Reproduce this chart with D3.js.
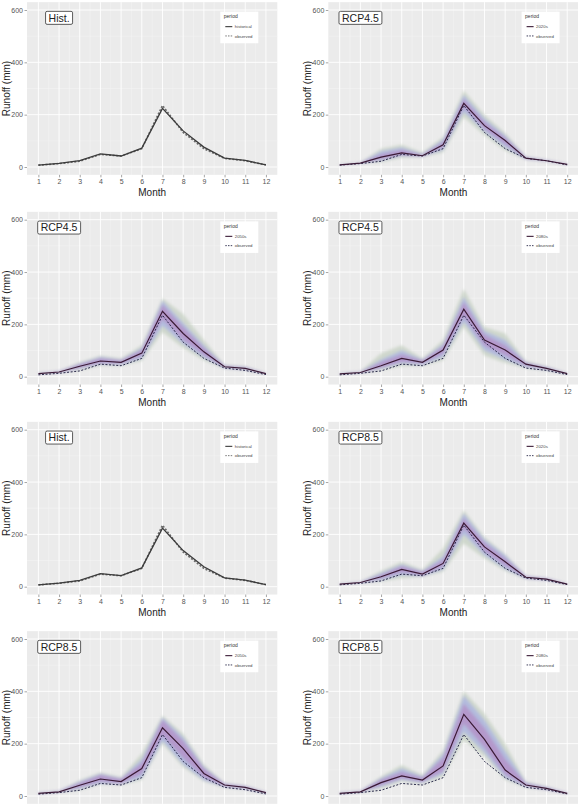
<!DOCTYPE html>
<html><head><meta charset="utf-8">
<script src="https://cdn.jsdelivr.net/npm/d3@7"></script>
<style>
html,body{margin:0;padding:0;background:#fff;}
svg{display:block;font-family:"Liberation Sans",Arial,Helvetica,sans-serif;}
</style></head>
<body><svg id="chart" width="578" height="804"></svg>
<script>
// ---------- data ----------
const months = [1,2,3,4,5,6,7,8,9,10,11,12];
const yTicks = [0,200,400,600];
const observed   = [7, 13, 22, 48, 42, 70, 235, 132, 70, 33, 24, 8];
const historical = [7, 14, 24, 50, 42, 72, 224, 138, 76, 34, 25, 8];

const rcp45_2020s = [8, 15, 38, 54, 43, 85, 243, 158, 101, 34, 24, 10];
const rcp45_2020s_outerHi = [10, 17, 70, 85, 55, 115, 292, 200, 130, 40, 28, 12];
const rcp45_2020s_outerLo = [6, 12, 18, 35, 38, 55, 190, 120, 62, 28, 20, 8];
const rcp45_2020s_midHi = [9, 16, 60, 75, 50, 105, 275, 185, 120, 38, 27, 11];
const rcp45_2020s_midLo = [7, 13, 25, 42, 40, 65, 210, 135, 75, 30, 22, 9];
const rcp45_2020s_innerHi = [9, 16, 48, 65, 47, 95, 260, 172, 112, 36, 26, 11];
const rcp45_2020s_innerLo = [7, 14, 30, 46, 41, 75, 228, 145, 88, 32, 23, 9];

const rcp45_2050s = [12, 18, 40, 60, 55, 90, 250, 165, 95, 38, 32, 12];
const rcp45_2050s_outerHi = [15, 22, 55, 80, 70, 120, 300, 240, 140, 45, 40, 14];
const rcp45_2050s_outerLo = [9, 14, 25, 42, 42, 60, 170, 110, 62, 30, 24, 9];
const rcp45_2050s_midHi = [14, 21, 50, 75, 65, 110, 290, 205, 120, 43, 37, 13];
const rcp45_2050s_midLo = [10, 15, 30, 48, 46, 70, 195, 125, 72, 32, 27, 10];
const rcp45_2050s_innerHi = [13, 20, 47, 70, 62, 102, 275, 190, 110, 41, 35, 13];
const rcp45_2050s_innerLo = [11, 16, 34, 52, 50, 80, 220, 140, 82, 35, 29, 11];

const rcp45_2080s = [11, 16, 42, 70, 55, 102, 258, 140, 102, 48, 32, 12];
const rcp45_2080s_outerHi = [14, 20, 90, 120, 70, 140, 336, 190, 165, 60, 40, 14];
const rcp45_2080s_outerLo = [8, 12, 25, 40, 42, 62, 190, 80, 52, 32, 22, 9];
const rcp45_2080s_midHi = [13, 19, 65, 100, 65, 125, 305, 175, 140, 55, 37, 13];
const rcp45_2080s_midLo = [9, 14, 30, 50, 45, 75, 210, 100, 65, 36, 26, 10];
const rcp45_2080s_innerHi = [12, 18, 55, 85, 62, 115, 285, 160, 120, 52, 35, 13];
const rcp45_2080s_innerLo = [10, 15, 35, 57, 50, 88, 230, 118, 82, 42, 29, 11];

const rcp85_2020s = [10, 16, 38, 66, 48, 89, 243, 152, 95, 36, 29, 10];
const rcp85_2020s_outerHi = [12, 19, 60, 95, 65, 146, 292, 190, 125, 42, 33, 12];
const rcp85_2020s_outerLo = [7, 13, 20, 32, 38, 57, 165, 108, 60, 28, 24, 8];
const rcp85_2020s_midHi = [11, 18, 52, 85, 60, 115, 280, 180, 120, 41, 32, 11];
const rcp85_2020s_midLo = [8, 14, 25, 45, 40, 66, 200, 120, 68, 30, 25, 9];
const rcp85_2020s_innerHi = [11, 17, 45, 78, 56, 102, 262, 168, 108, 39, 31, 11];
const rcp85_2020s_innerLo = [9, 15, 31, 55, 43, 77, 222, 135, 80, 33, 27, 9];

const rcp85_2050s = [10, 16, 41, 65, 55, 105, 261, 181, 86, 42, 33, 13];
const rcp85_2050s_outerHi = [13, 20, 60, 90, 72, 162, 308, 238, 120, 50, 40, 15];
const rcp85_2050s_outerLo = [7, 12, 22, 45, 42, 61, 200, 110, 55, 32, 25, 9];
const rcp85_2050s_midHi = [12, 19, 55, 85, 68, 140, 300, 225, 112, 48, 38, 14];
const rcp85_2050s_midLo = [8, 14, 28, 48, 45, 70, 210, 120, 60, 34, 27, 10];
const rcp85_2050s_innerHi = [11, 18, 50, 80, 65, 125, 290, 210, 105, 46, 36, 14];
const rcp85_2050s_innerLo = [9, 15, 33, 55, 48, 85, 230, 145, 70, 37, 30, 11];

const rcp85_2080s = [10, 16, 51, 77, 61, 115, 312, 216, 99, 42, 29, 10];
const rcp85_2080s_outerHi = [13, 20, 75, 118, 80, 175, 401, 315, 200, 55, 36, 12];
const rcp85_2080s_outerLo = [7, 12, 28, 55, 45, 74, 213, 150, 61, 32, 22, 8];
const rcp85_2080s_midHi = [12, 19, 68, 105, 75, 160, 384, 290, 170, 52, 34, 12];
const rcp85_2080s_midLo = [8, 14, 35, 62, 50, 85, 245, 165, 70, 35, 24, 9];
const rcp85_2080s_innerHi = [11, 18, 62, 92, 70, 145, 353, 260, 140, 48, 32, 11];
const rcp85_2080s_innerLo = [9, 15, 42, 68, 54, 95, 276, 185, 82, 38, 26, 9];

const panelTitles = ["Hist.", "RCP4.5", "RCP4.5", "RCP4.5", "Hist.", "RCP8.5", "RCP8.5", "RCP8.5"];
const periodLabels = ["historical", "2020s", "2050s", "2080s", "historical", "2020s", "2050s", "2080s"];
const seriesList = [historical, rcp45_2020s, rcp45_2050s, rcp45_2080s, historical, rcp85_2020s, rcp85_2050s, rcp85_2080s];
const bandList = [
  null,
  [rcp45_2020s_outerLo, rcp45_2020s_outerHi, rcp45_2020s_midLo, rcp45_2020s_midHi, rcp45_2020s_innerLo, rcp45_2020s_innerHi],
  [rcp45_2050s_outerLo, rcp45_2050s_outerHi, rcp45_2050s_midLo, rcp45_2050s_midHi, rcp45_2050s_innerLo, rcp45_2050s_innerHi],
  [rcp45_2080s_outerLo, rcp45_2080s_outerHi, rcp45_2080s_midLo, rcp45_2080s_midHi, rcp45_2080s_innerLo, rcp45_2080s_innerHi],
  null,
  [rcp85_2020s_outerLo, rcp85_2020s_outerHi, rcp85_2020s_midLo, rcp85_2020s_midHi, rcp85_2020s_innerLo, rcp85_2020s_innerHi],
  [rcp85_2050s_outerLo, rcp85_2050s_outerHi, rcp85_2050s_midLo, rcp85_2050s_midHi, rcp85_2050s_innerLo, rcp85_2050s_innerHi],
  [rcp85_2080s_outerLo, rcp85_2080s_outerHi, rcp85_2080s_midLo, rcp85_2080s_midHi, rcp85_2080s_innerLo, rcp85_2080s_innerHi]
];

// ---------- layout ----------
const svg = d3.select("#chart");
const k = 157/600;
const plotW = 250.3;
const colLeft = [27, 328.3];
const rowZero = [167, 376.7, 586.7, 796];
const bandColors = ["#c5d0c2", "#a9b2e3", "#b38ac4"];
const bandOpac = [0.75, 0.75, 0.7];

const defs = svg.append("defs");
defs.append("filter").attr("id","soft").attr("x","-5%").attr("y","-5%").attr("width","110%").attr("height","110%")
  .append("feGaussianBlur").attr("stdDeviation", 1.6);

for (let i = 0; i < 8; i++) {
  const r = Math.floor(i/2), c = i % 2;
  const left = colLeft[c];
  const y0 = rowZero[r];
  const top = y0 - 630*k, bottom = y0 + 30*k;
  const x = d3.scaleLinear().domain([0.45, 12.55]).range([left, left + plotW]);
  const y = d3.scaleLinear().domain([-30, 630]).range([bottom, top]);
  const g = svg.append("g");
  const clipId = "clip" + i;
  defs.append("clipPath").attr("id", clipId).append("rect")
    .attr("x", left).attr("y", top).attr("width", plotW).attr("height", bottom - top);

  g.append("rect").attr("x", left).attr("y", top).attr("width", plotW).attr("height", bottom - top).attr("fill", "#ebebeb");
  // minor grid
  [100,300,500].forEach(v => g.append("line").attr("x1", left).attr("x2", left+plotW).attr("y1", y(v)).attr("y2", y(v)).attr("stroke","#f5f5f5").attr("stroke-width",0.5));
  months.slice(0, 11).forEach(m => g.append("line").attr("x1", x(m+0.5)).attr("x2", x(m+0.5)).attr("y1", top).attr("y2", bottom).attr("stroke","#f5f5f5").attr("stroke-width",0.5));
  // major grid
  yTicks.forEach(v => g.append("line").attr("x1", left).attr("x2", left+plotW).attr("y1", y(v)).attr("y2", y(v)).attr("stroke","#fff").attr("stroke-width",0.9));
  months.forEach(m => g.append("line").attr("x1", x(m)).attr("x2", x(m)).attr("y1", top).attr("y2", bottom).attr("stroke","#fff").attr("stroke-width",0.9));

  const inner = g.append("g").attr("clip-path", `url(#${clipId})`);
  const bands = bandList[i];
  if (bands) {
    const bg = inner.append("g").attr("filter", "url(#soft)");
    for (let b = 0; b < 3; b++) {
      const lo = bands[b*2], hi = bands[b*2+1];
      const area = d3.area().x((d, j) => x(months[j])).y0((d, j) => y(lo[j])).y1((d, j) => y(hi[j]));
      bg.append("path").attr("d", area(months)).attr("fill", bandColors[b]).attr("fill-opacity", bandOpac[b]);
    }
  }
  const line = d3.line().x((d, j) => x(months[j])).y(d => y(d));
  const isHist = !bands;
  inner.append("path").attr("d", line(observed)).attr("fill","none")
    .attr("stroke", isHist ? "#6a6a6a" : "#2a2a4a").attr("stroke-width", isHist ? 1.6 : 1.0)
    .attr("stroke-dasharray", "2,1.6");
  inner.append("path").attr("d", line(seriesList[i])).attr("fill","none")
    .attr("stroke", isHist ? "#3c3c3c" : "#3a1b36").attr("stroke-width", isHist ? 1.3 : 1.2);

  // axes
  const yAxis = d3.axisLeft(y).tickValues(yTicks).tickSize(2.5).tickPadding(1.5);
  const ya = g.append("g").attr("transform", `translate(${left},0)`).call(yAxis);
  const xa = g.append("g").attr("transform", `translate(0,${bottom})`);
  if (r < 3) {
    xa.call(d3.axisBottom(x).tickValues(months).tickSize(2.5).tickPadding(2));
  }
  [ya, xa].forEach(a => {
    a.select(".domain").remove();
    a.selectAll(".tick line").attr("stroke", "#4d4d4d").attr("stroke-width", 0.5);
    a.selectAll(".tick text").attr("fill", "#555").style("font-size", "7px").style("font-family", "'Liberation Sans',Arial,sans-serif");
  });

  if (r < 3) {
    g.append("text").attr("x", left + plotW/2).attr("y", bottom + 21.5).attr("text-anchor","middle")
      .attr("fill","#222").style("font-size","10px").text("Month");
  }
  g.append("text").attr("transform", `translate(${left - 17.5},${(top+bottom)/2}) rotate(-90)`).attr("text-anchor","middle")
    .attr("fill","#222").style("font-size","10px").text("Runoff (mm)");

  // panel label
  const lbl = g.append("g");
  const t = lbl.append("text").attr("x", x(2)).attr("y", y(570) + 3.8).attr("text-anchor","middle")
    .attr("fill","#222").style("font-size","10.5px").text(panelTitles[i]);
  const bb = t.node().getBBox();
  lbl.insert("rect", "text").attr("x", bb.x - 3).attr("y", y(570) - 6.5).attr("width", bb.width + 6).attr("height", 13)
    .attr("rx", 1.5).attr("fill", "#fff").attr("stroke", "#333").attr("stroke-width", 0.8);

  // legend
  const lx = left + plotW - 57, ly = top + 9.5;
  const lg = g.append("g");
  lg.append("rect").attr("x", lx).attr("y", ly).attr("width", 38).attr("height", 31.6).attr("fill", "#fff");
  lg.append("text").attr("x", lx + 3.5).attr("y", ly + 6.7).attr("fill","#333").style("font-size","5px").text("period");
  lg.append("line").attr("x1", lx + 5).attr("x2", lx + 12).attr("y1", ly + 15).attr("y2", ly + 15)
    .attr("stroke", isHist ? "#3c3c3c" : "#3a1b36").attr("stroke-width", 1.1);
  lg.append("text").attr("x", lx + 14.5).attr("y", ly + 16.6).attr("fill","#444").style("font-size","4.3px").text(periodLabels[i]);
  lg.append("line").attr("x1", lx + 5).attr("x2", lx + 12).attr("y1", ly + 24.3).attr("y2", ly + 24.3)
    .attr("stroke", isHist ? "#6a6a6a" : "#2a2a4a").attr("stroke-width", 0.9).attr("stroke-dasharray", "1.5,1.2");
  lg.append("text").attr("x", lx + 14.5).attr("y", ly + 25.9).attr("fill","#444").style("font-size","4.3px").text("observed");
}
</script>
</body></html>
